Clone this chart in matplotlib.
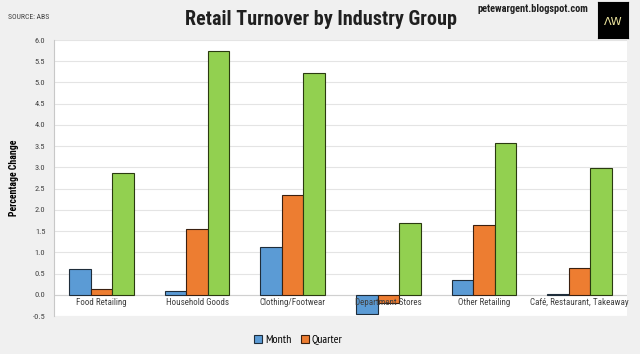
import matplotlib.pyplot as plt
import numpy as np

categories = ['Food Retailing', 'Household Goods', 'Clothing/Footwear',
              'Department Stores', 'Other Retailing', 'Café, Restaurant, Takeaway']
month = [0.60, 0.10, 1.13, -0.45, 0.36, 0.02]
quarter = [0.13, 1.55, 2.36, -0.20, 1.64, 0.63]
year = [2.87, 5.75, 5.22, 1.70, 3.58, 2.99]
yticks = np.arange(-0.5, 6.01, 0.5)

plt.rcParams['font.family'] = ['Roboto Condensed', 'PT Sans Narrow', 'DejaVu Sans']

fig = plt.figure(figsize=(6.4, 3.54), dpi=100, facecolor='#f0f0f0')
ax = fig.add_axes([0.084, 0.107, 0.896, 0.78], facecolor='white')

x = np.arange(len(categories))
w = 0.225
ax.bar(x - w, month, w, color='#5b9bd5', edgecolor='#1f2d3a', linewidth=0.8, label='Month', zorder=3)
ax.bar(x, quarter, w, color='#ed7d31', edgecolor='#3a2010', linewidth=0.8, label='Quarter', zorder=3)
ax.bar(x + w, year, w, color='#92d050', edgecolor='#2a3a10', linewidth=0.8, zorder=3)

ax.set_xlim(-0.5, len(categories) - 0.5)
ax.set_ylim(-0.5, 6.0)
ax.set_yticks(yticks)
ax.set_yticklabels([f'{v:.1f}' for v in yticks], fontsize=6, color='#404040')
ax.set_xticks([])
ax.grid(axis='y', color='#e4e4e4', linewidth=0.8, zorder=0)
ax.axhline(0, color='#d0d0d0', linewidth=0.8, zorder=2)
for s in ['top', 'right', 'bottom']:
    ax.spines[s].set_visible(False)
ax.spines['left'].set_color('#c8c8c8')
ax.tick_params(axis='y', length=0, pad=6)

for i, c in enumerate(categories):
    ax.text(i, -0.08, c, ha='center', va='top', fontsize=6.5, color='#404040', zorder=4)

ax.set_ylabel('Percentage Change', fontsize=7, fontweight='bold')
ax.yaxis.set_label_coords(-0.061, 0.5)

fig.text(0.502, 0.945, 'Retail Turnover by Industry Group', ha='center', va='center',
         fontsize=14.5, fontweight='bold', color='#202020')
fig.text(0.013, 0.953, 'SOURCE: ABS', ha='left', va='center', fontsize=5.5, color='#404040')
fig.text(0.746, 0.975, 'petewargent.blogspot.com', ha='left', va='center',
         fontsize=7.5, fontweight='bold', color='#202020')

logo = fig.add_axes([0.934, 0.893, 0.047, 0.1], facecolor='black')
logo.set_xticks([])
logo.set_yticks([])
logo.text(0.5, 0.45, 'ΛW', ha='center', va='center', color='#f0e8a0', fontsize=8,
          family='DejaVu Sans', transform=logo.transAxes)

ax.legend(loc='upper center', bbox_to_anchor=(0.426, -0.03), ncol=2, frameon=False,
          prop={'family': 'PT Sans Narrow', 'size': 8.5},
          handlelength=0.7, handleheight=0.7, handletextpad=0.2, columnspacing=0.8)

fig.savefig('out.png', dpi=100, facecolor=fig.get_facecolor())
